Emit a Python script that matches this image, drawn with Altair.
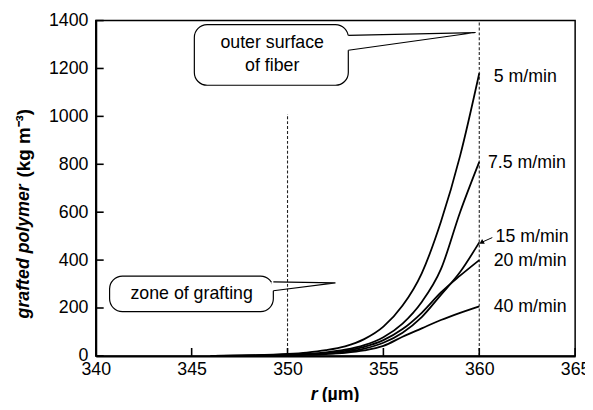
import altair as alt
import pandas as pd

# ---- data ----
r_vals = [346, 348, 350, 351, 352, 353, 354, 355, 356, 357, 358, 359, 360]
v_5 = [0, 2, 8, 14, 24, 40, 70, 122, 210, 345, 560, 835, 1180]
v_7_5 = [0, 1, 5, 9, 15, 26, 45, 78, 135, 225, 362, 600, 810]
v_15 = [0, 1, 3, 5, 9, 16, 30, 55, 97, 162, 255, 350, 474]
v_20 = [0, 1, 4, 7, 12, 21, 38, 66, 112, 180, 265, 335, 400]
v_40 = [0, 1, 3, 5, 8, 13, 23, 42, 80, 115, 150, 180, 207]
series_names = ["5 m/min", "7.5 m/min", "15 m/min", "20 m/min", "40 m/min"]
series_vals = [v_5, v_7_5, v_15, v_20, v_40]

label_r = [360.75, 360.45, 360.85, 360.75, 360.75]
label_v = [1165, 803, 498, 395, 202]

x_ticks = [340, 345, 350, 355, 360, 365]
y_ticks = [0, 200, 400, 600, 800, 1000, 1200, 1400]

FONT = "Liberation Sans"

rows = []
for name, vals in zip(series_names, series_vals):
    for r, v in zip(r_vals, vals):
        rows.append({"series": name, "r": r, "v": v})
df = pd.DataFrame(rows)

xs = alt.Scale(domain=[340, 365], nice=False, zero=False)
ys = alt.Scale(domain=[0, 1400], nice=False)
xaxis = alt.Axis(values=x_ticks, ticks=False, labelPadding=5, labelFontSize=18,
                 labelFont=FONT, labelColor="black", domainColor="black",
                 domainWidth=2, grid=False, title=None, labelFlush=False,
                 format="d")
yaxis = alt.Axis(values=y_ticks, ticks=False, labelPadding=8, labelFontSize=18,
                 labelFont=FONT, labelColor="black", domainColor="black",
                 domainWidth=2, grid=False, title=None, labelFlush=False,
                 format="d")


def X(f):
    return alt.X(f, type="quantitative", scale=xs, axis=xaxis)


def Y(f):
    return alt.Y(f, type="quantitative", scale=ys, axis=yaxis)


def X2(f):
    return alt.X2(f)


def Y2(f):
    return alt.Y2(f)


lines = alt.Chart(df).mark_line(color="black", strokeWidth=1.8,
                                interpolate="monotone").encode(
    x=X("r"), y=Y("v"), detail="series:N")

# dashed reference lines
ref_df = pd.DataFrame({"r": [350, 360], "v": [0, 0], "v2": [1010, 1400]})
refs = alt.Chart(ref_df).mark_rule(color="#222", strokeWidth=1.1,
                                   strokeDash=[3, 2]).encode(
    x=X("r"), y=Y("v"), y2=Y2("v2"))

# inward ticks
xt = alt.Chart(pd.DataFrame({"r": x_ticks})).mark_rule(
    color="black", strokeWidth=1.6).encode(
    x=X("r"), y=alt.value(340), y2=alt.value(332))
yt = alt.Chart(pd.DataFrame({"v": y_ticks})).mark_rule(
    color="black", strokeWidth=1.6).encode(
    y=Y("v"), x=alt.value(0), x2=alt.value(8))

# series labels
lab_df = pd.DataFrame({"r": label_r, "v": label_v, "t": series_names})
labels = alt.Chart(lab_df).mark_text(align="left", baseline="middle",
                                     font=FONT, fontSize=18, color="black").encode(
    x=X("r"), y=Y("v"), text="t:N")

# arrow for 15 m/min
arr_df = pd.DataFrame({"r": [360.68, 360.12], "v": [494, 474]})
arrow = alt.Chart(arr_df).mark_line(color="black", strokeWidth=1).encode(
    x=X("r"), y=Y("v"))
head = alt.Chart(pd.DataFrame({"r": [360.15], "v": [475]})).mark_point(
    shape="triangle", filled=True, color="black", size=30, angle=240, opacity=1).encode(
    x=X("r"), y=Y("v"))

# callout bubbles
b_df = pd.DataFrame({"r": [345.14, 340.72], "r2": [353.17, 349.26],
                     "v": [1383, 333], "v2": [1130, 185]})
bubbles = alt.Chart(b_df).mark_rect(fill="white", stroke="black", strokeWidth=1.2,
                                    cornerRadius=13).encode(
    x=X("r"), x2=X2("r2"), y=Y("v"), y2=Y2("v2"))

gap_df = pd.DataFrame({"r": [353.17, 349.26], "v": [1276, 272], "v2": [1338, 309]})
gaps = alt.Chart(gap_df).mark_rule(color="white", strokeWidth=4).encode(
    x=X("r"), y=Y("v"), y2=Y2("v2"))

p_df = pd.DataFrame({
    "g": ["a", "a", "a", "b", "b", "b"],
    "o": [0, 1, 2, 0, 1, 2],
    "r": [353.17, 359.8, 353.17, 349.26, 352.5, 349.26],
    "v": [1338, 1350, 1276, 309, 305, 272],
})
pointers = alt.Chart(p_df).mark_line(color="black", strokeWidth=1.2).encode(
    x=X("r"), y=Y("v"), detail="g:N", order="o:Q")

bt_df = pd.DataFrame({"r": [349.2, 349.2, 345.0],
                      "v": [1306, 1212, 259],
                      "t": ["outer surface", "of fiber", "zone of grafting"]})
btext = alt.Chart(bt_df).mark_text(align="center", baseline="middle", font=FONT,
                                   fontSize=18, color="black").encode(
    x=X("r"), y=Y("v"), text="t:N")

# axis titles as text (mixed italic / upright)
one = pd.DataFrame({"a": [0]})
yt1 = alt.Chart(one).mark_text(text="grafted polymer", angle=270, align="left",
                               baseline="middle", font=FONT, fontSize=18,
                               fontWeight="bold", fontStyle="italic", color="black").encode(
    x=alt.value(-73), y=alt.value(302))
yt2 = alt.Chart(one).mark_text(text="(kg m\u207b\u00b3)", angle=270, align="left",
                               baseline="middle", font=FONT, fontSize=19,
                               fontWeight="bold", color="black").encode(
    x=alt.value(-73), y=alt.value(159))
xt1 = alt.Chart(one).mark_text(text="r", align="left", baseline="alphabetic",
                               font=FONT, fontSize=18, fontWeight="bold",
                               fontStyle="italic", color="black").encode(
    x=alt.value(218), y=alt.value(385))
xt2 = alt.Chart(one).mark_text(text="(\u00b5m)", align="left", baseline="alphabetic",
                               font=FONT, fontSize=18, fontWeight="bold",
                               color="black").encode(
    x=alt.value(229), y=alt.value(385))

chart = alt.layer(
    refs, lines, xt, yt, bubbles, gaps, pointers, btext, labels, arrow, head,
    yt1, yt2, xt1, xt2
).properties(
    width=486, height=340,
    autosize=alt.AutoSizeParams(type="none"),
    padding={"left": 89, "top": 10, "right": 10, "bottom": 44},
    background="white",
).configure_view(stroke="black", strokeWidth=1.5)

chart.save("out.html", embed_options={"renderer": "svg", "actions": False})
